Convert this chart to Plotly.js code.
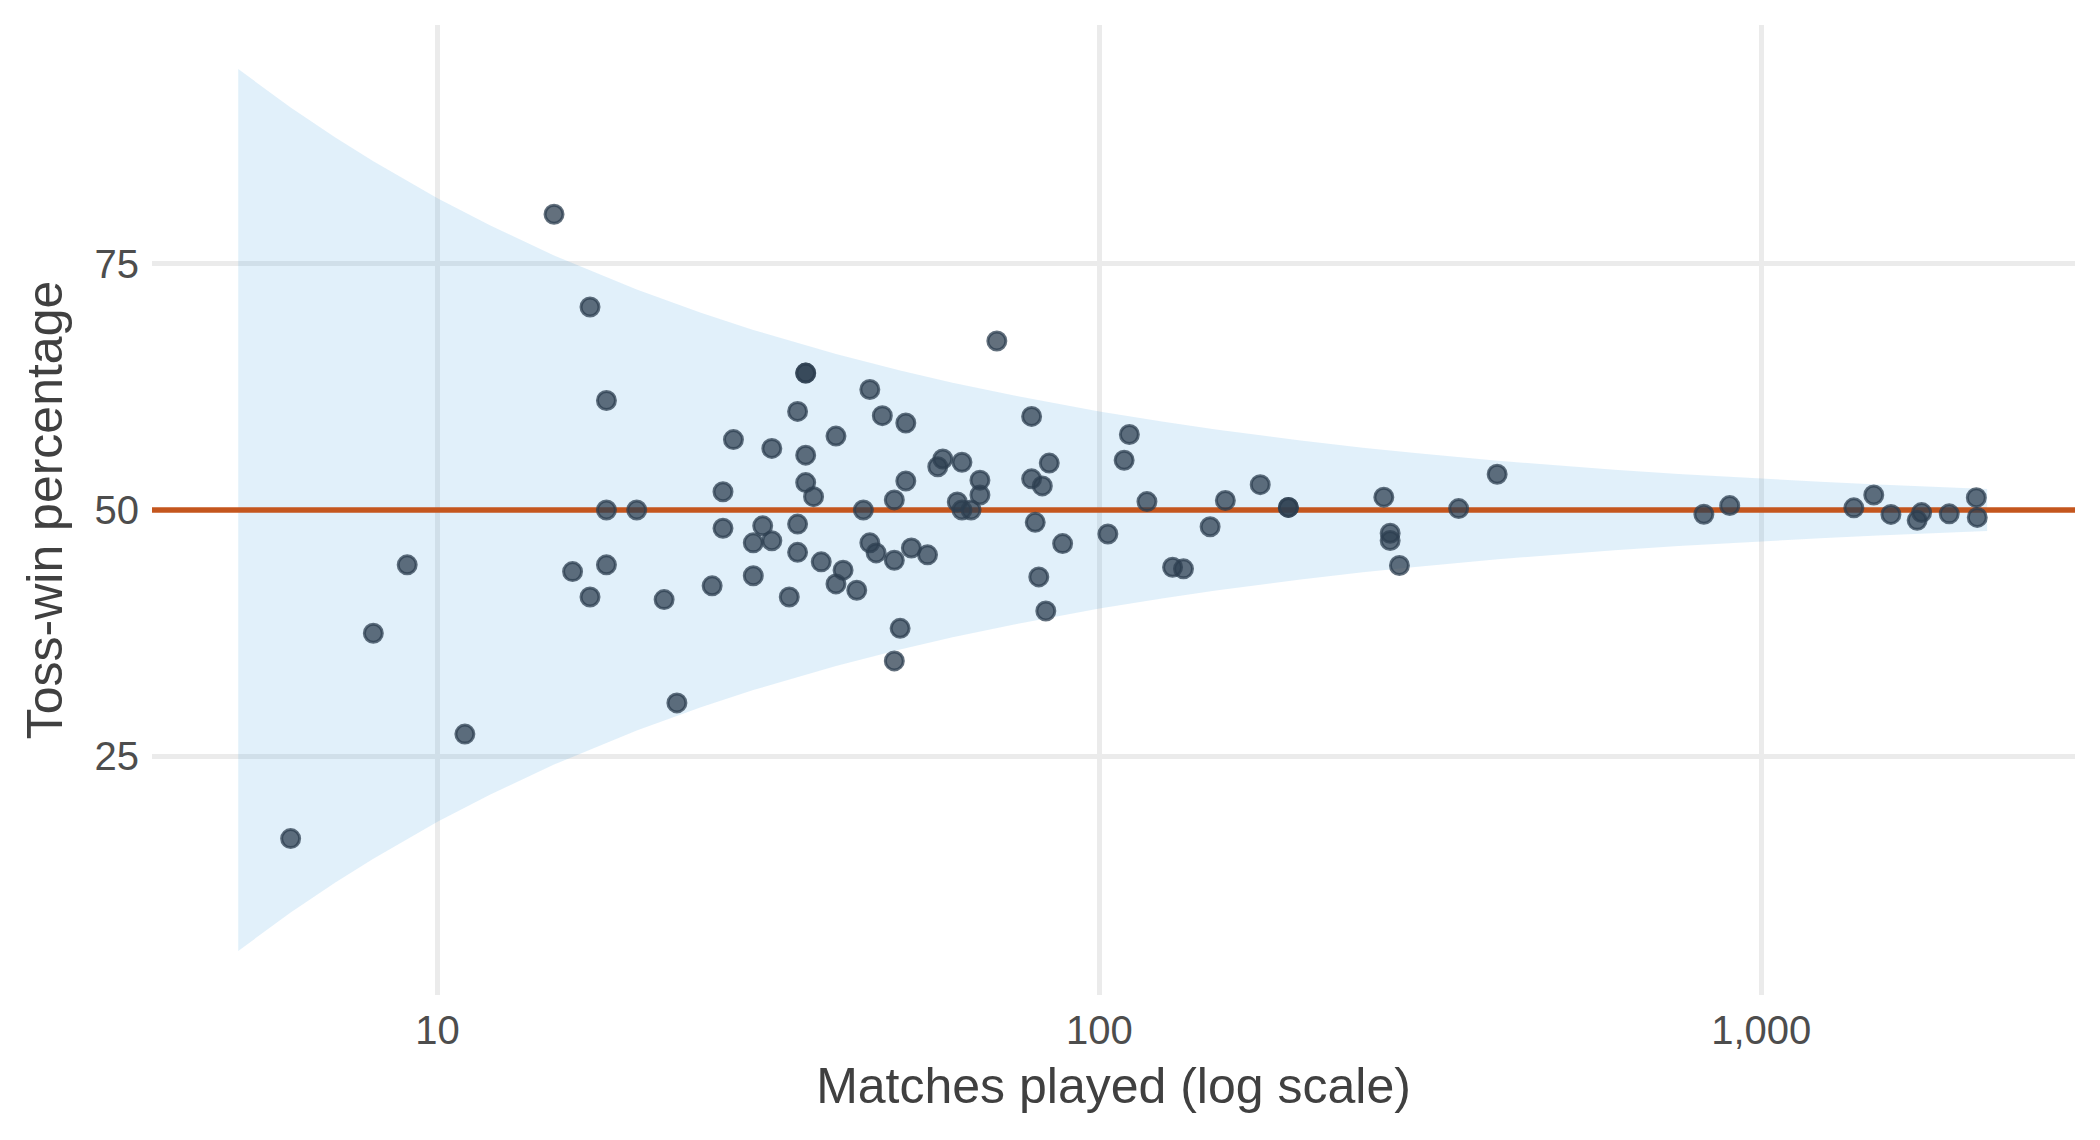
<!DOCTYPE html>
<html>
<head>
<meta charset="utf-8">
<script src="https://cdn.plot.ly/plotly-3.0.1.min.js"></script>
<style>
  html, body { margin: 0; padding: 0; background: #ffffff; }
  #chart { width: 2100px; height: 1140px; }
</style>
</head>
<body>
<div id="chart"></div>
<script>
// ---- Data ----
const matchesPlayed = [
  6, 8, 9, 11, 15, 16, 17, 17, 18, 18, 18, 20, 22, 23, 26, 27, 27, 28, 30, 30,
  31, 32, 32, 34, 35, 35, 35, 36, 36, 36, 36, 37, 38, 40, 40, 41, 43, 44, 45, 45,
  46, 47, 49, 49, 49, 50, 51, 51, 52, 55, 57, 58, 62, 61, 62, 64, 66, 66, 70, 79,
  79, 80, 81, 82, 83, 84, 88, 103, 109, 111, 118, 129, 134, 147, 155, 175, 193, 193,
  269, 275, 275, 284, 349, 399, 819, 896, 1380, 1479, 1570, 1720, 1747, 1923, 2113, 2120
];
const tossWinPct = [
  16.67, 37.5, 44.44, 27.27, 80.0, 43.75, 70.59, 41.18, 61.11, 50.0, 44.44, 50.0, 40.91, 30.43, 42.31, 51.85, 48.15, 57.14, 46.67, 43.33,
  48.39, 46.88, 56.25, 41.18, 60.0, 48.57, 45.71, 63.89, 63.89, 55.56, 52.78, 51.35, 44.74, 57.5, 42.5, 43.9, 41.86, 50.0, 62.22, 46.67,
  45.65, 59.57, 34.69, 44.9, 51.02, 38.0, 58.82, 52.94, 46.15, 45.45, 54.39, 55.17, 54.84, 50.82, 50.0, 50.0, 53.03, 51.52, 67.14, 59.49,
  53.16, 48.75, 43.21, 52.44, 39.76, 54.76, 46.59, 47.57, 55.05, 57.66, 50.85, 44.19, 44.03, 48.3, 50.97, 52.57, 50.26, 50.26,
  51.3, 47.64, 46.91, 44.37, 50.14, 53.63, 49.57, 50.45, 50.22, 51.52, 49.55, 48.95, 49.74, 49.61, 51.25, 49.25
];

// Funnel band (expected range around 50%)
const bandMatches = [5, 6, 7, 8, 10, 12, 15, 20, 25, 30, 40, 50, 60, 75, 100, 125, 150, 200, 250, 300, 400, 500, 600, 750, 1000, 1250, 1500, 1750, 2000, 2194];
const bandUpper = [94.72, 90.82, 87.80, 85.36, 81.62, 78.87, 75.82, 72.36, 70.00, 68.26, 65.81, 64.14, 62.91, 61.55, 60.00, 58.94, 58.16, 57.07, 56.32, 55.77, 55.00, 54.47, 54.08, 53.65, 53.16, 52.83, 52.58, 52.39, 52.24, 52.13];
const bandLower = [5.28, 9.18, 12.20, 14.64, 18.38, 21.13, 24.18, 27.64, 30.00, 31.74, 34.19, 35.86, 37.09, 38.45, 40.00, 41.06, 41.84, 42.93, 43.68, 44.23, 45.00, 45.53, 45.92, 46.35, 46.84, 47.17, 47.42, 47.61, 47.76, 47.87];

const referencePct = 50;

const xTickVals = [10, 100, 1000];
const xTickText = ["10", "100", "1,000"];
const yTickVals = [25, 50, 75];
const yTickText = ["25", "50", "75"];

// ---- Layout constants ----
const xRangeLog = [0.5687, 3.474];
const yRange = [0.81, 99.19];

const traces = [
  {
    type: 'scatter', mode: 'lines',
    x: bandMatches, y: bandLower,
    line: { width: 0, color: 'rgba(0,0,0,0)' },
    hoverinfo: 'skip', showlegend: false
  },
  {
    type: 'scatter', mode: 'lines',
    x: bandMatches, y: bandUpper,
    fill: 'tonexty', fillcolor: 'rgba(52,152,219,0.15)',
    line: { width: 0, color: 'rgba(0,0,0,0)' },
    hoverinfo: 'skip', showlegend: false
  },
  {
    type: 'scatter', mode: 'lines',
    x: [Math.pow(10, xRangeLog[0]), Math.pow(10, xRangeLog[1])],
    y: [referencePct, referencePct],
    line: { width: 5.5, color: '#c4561e' },
    hoverinfo: 'skip', showlegend: false, cliponaxis: false
  },
  {
    type: 'scatter', mode: 'markers',
    x: matchesPlayed, y: tossWinPct,
    marker: {
      size: 18,
      color: 'rgba(44,62,80,0.74)',
      line: { width: 3, color: 'rgba(44,62,80,0.74)' }
    },
    showlegend: false
  }
];

const layout = {
  width: 2100, height: 1140,
  paper_bgcolor: '#ffffff', plot_bgcolor: '#ffffff',
  margin: { l: 152, r: 25, t: 25, b: 145, pad: 0 },
  font: { family: '"Liberation Sans", Arial, Helvetica, sans-serif', color: '#4d4d4d' },
  showlegend: false,
  xaxis: {
    type: 'log',
    range: xRangeLog,
    tickmode: 'array', tickvals: xTickVals, ticktext: xTickText,
    showgrid: true, gridcolor: '#ebebeb', gridwidth: 4.5,
    zeroline: false, showline: false, ticks: '',
    tickfont: { size: 40, color: '#4d4d4d' },
    ticklabelstandoff: 8,
    title: { text: 'Matches played (log scale)', font: { size: 50, color: '#404040' }, standoff: 16 },
    automargin: false
  },
  yaxis: {
    range: yRange,
    tickmode: 'array', tickvals: yTickVals, ticktext: yTickText,
    showgrid: true, gridcolor: '#ebebeb', gridwidth: 4.5,
    zeroline: false, showline: false, ticks: '',
    tickfont: { size: 40, color: '#4d4d4d' },
    ticklabelstandoff: 12,
    title: { text: 'Toss-win percentage', font: { size: 50, color: '#404040' }, standoff: 16 },
    automargin: false
  }
};

Plotly.newPlot('chart', traces, layout, { displayModeBar: false, staticPlot: true });
</script>
</body>
</html>
